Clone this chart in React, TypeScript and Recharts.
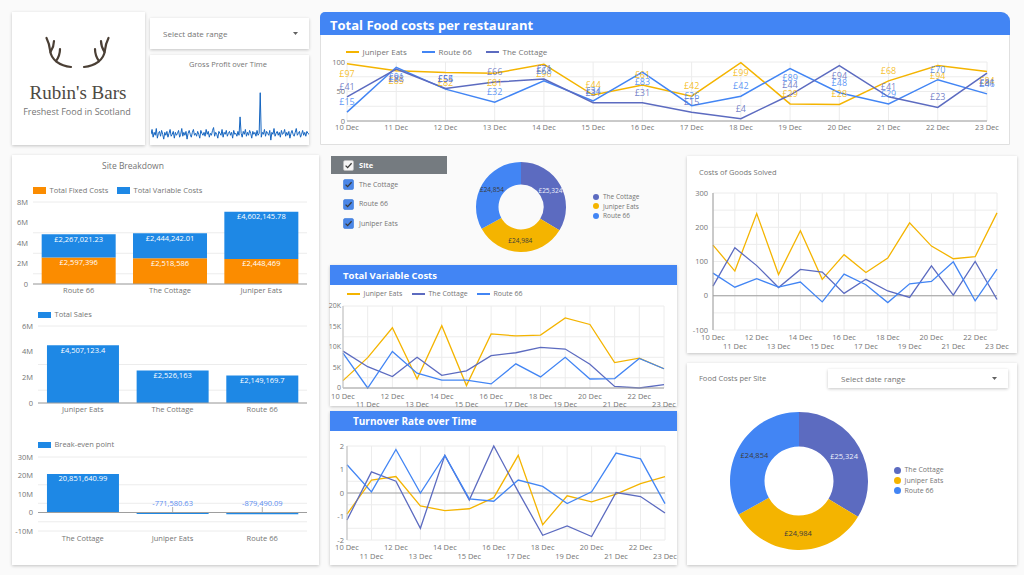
import React from "react";
import {
  Bar,
  BarChart,
  CartesianGrid,
  Cell,
  LabelList,
  Line,
  LineChart,
  Pie,
  PieChart,
  ReferenceLine,
  XAxis,
  YAxis,
} from "recharts";

const FONT = '"Open Sans", sans-serif';
const JUNIPER = "#f4b400";
const ROUTE = "#4285f4";
const COTTAGE = "#5c6bc0";
const HEAD = "#4285f4";
const BAR_BLUE = "#1e88e5";
const BAR_ORANGE = "#fb8c00";
const TICK = "#757575";
const GRID = "#ececec";

const dates = [
  "10 Dec", "11 Dec", "12 Dec", "13 Dec", "14 Dec", "15 Dec", "16 Dec",
  "17 Dec", "18 Dec", "19 Dec", "20 Dec", "21 Dec", "22 Dec", "23 Dec",
];

// Total food costs per restaurant (£)
const foodJuniper = [97, 85, 82, 81, 96, 44, 61, 42, 99, 29, 28, 68, 94, 84];
const foodRoute = [15, 91, 54, 32, 68, 34, 83, 26, 42, 89, 48, 29, 70, 46];
const foodCottage = [41, 88, 55, 66, 71, 31, 31, 15, 4, 44, 94, 41, 23, 81];

// Total variable costs
const varJuniper = [1800, 7400, 14700, 2200, 15200, 600, 13200, 12700, 12900, 17100, 15500, 6200, 7300, 4700];
const varCottage = [9000, 5200, 2800, 7500, 3100, 4200, 7900, 8600, 9900, 9500, 5800, 400, 0, 800];
const varRoute = [8500, 0, 8900, 3600, 1900, 1900, 1000, 5900, 2700, 7500, 2200, 2300, 7200, 4700];

// Turnover rate
const turnJuniper = [-0.9, 0.55, 0.7, -0.55, -0.75, -0.67, -0.2, 1.6, -1.35, -0.12, -0.38, -0.05, 0.4, 0.7];
const turnCottage = [-1.15, 0.9, 0.5, -1.5, 1.6, -0.3, 2, 0.06, -1.8, -1.4, -1.85, 0.02, -0.15, -0.85];
const turnRoute = [1.2, 0.05, 1.85, 0, 1.6, -0.25, -0.35, 0.55, 0.28, -0.45, 0.05, 1.7, 1.45, -0.45];

// Costs of goods
const cogsJuniper = [148, 72, 240, 62, 190, 48, 120, 68, 110, 213, 145, 108, 114, 242];
const cogsCottage = [28, 140, 88, 24, 77, 69, 7, 48, 14, -5, 87, 2, 100, -11];
const cogsRoute = [66, 25, 50, 25, 40, -18, 63, 32, -20, 35, 42, 99, -15, 78];

// Site breakdown
const breakdownSites = ["Route 66", "The Cottage", "Juniper Eats"];
const fixedCosts = [2597396, 2518586, 2448469];
const variableCosts = [2267021.23, 2444242.01, 4602145.78];

const salesSites = ["Juniper Eats", "The Cottage", "Route 66"];
const totalSales = [4507123.4, 2526163, 2149169.7];

const breakEvenSites = ["The Cottage", "Juniper Eats", "Route 66"];
const breakEven = [20851640.99, -771580.63, -879490.09];

// Food costs per site
const pieSites = ["The Cottage", "Juniper Eats", "Route 66"];
const pieValues = [25324, 24984, 24854];
const pieColors = [COTTAGE, JUNIPER, ROUTE];

// Gross profit sparkline
const grossProfit = [
  9, 14, 6, 11, 8, 15, 5, 10, 12, 7, 13, 9, 4, 11, 8, 12, 6, 10, 14, 7, 9, 12, 5, 11, 8,
  10, 13, 6, 9, 15, 7, 11, 8, 12, 4, 10, 13, 9, 6, 11, 14, 8, 10, 7, 12, 9, 5, 13, 10, 8,
  11, 7, 14, 9, 12, 6, 10, 8, 13, 16, 7, 11, 9, 5, 12, 10, 8, 14, 6, 11, 9, 13, 7, 10, 12,
  8, 11, 5, 13, 9, 10, 7, 12, 8, 27, 10, 6, 12, 9, 14, 7, 11, 8, 13, 10, 5, 12, 9, 11, 7,
  13, 8, 10, 52, 6, 11, 9, 14, 7, 12, 10, 8, 13, 3, 11, 9, 15, 7, 10, 12, 8, 11, 6, 13, 9,
  10, 14, 7, 11, 8, 12, 5, 10, 13, 9, 7, 11, 15, 8, 10, 12, 6, 9, 13, 8, 11, 7, 12, 10, 9,
];

const foodData = dates.map((d, i) => ({ date: d, juniper: foodJuniper[i], route: foodRoute[i], cottage: foodCottage[i] }));
const varData = dates.map((d, i) => ({ date: d, juniper: varJuniper[i], cottage: varCottage[i], route: varRoute[i] }));
const turnData = dates.map((d, i) => ({ date: d, juniper: turnJuniper[i], cottage: turnCottage[i], route: turnRoute[i] }));
const cogsData = dates.map((d, i) => ({ date: d, juniper: cogsJuniper[i], cottage: cogsCottage[i], route: cogsRoute[i] }));
const breakdownData = breakdownSites.map((s, i) => ({ site: s, fixed: fixedCosts[i], variable: variableCosts[i] }));
const salesData = salesSites.map((s, i) => ({ site: s, sales: totalSales[i] }));
const breakEvenData = breakEvenSites.map((s, i) => ({ site: s, value: breakEven[i] }));
const pieData = pieSites.map((s, i) => ({ name: s, value: pieValues[i] }));
const grossData = grossProfit.map((v, i) => ({ i, v }));

const fmt = (v: number) => v.toLocaleString("en-GB", { maximumFractionDigits: 2 });
const tickStyle = { fontSize: 7.5, fill: TICK, fontFamily: FONT };
const abs = (left: number, top: number, extra: any = {}) => ({ position: "absolute" as const, left, top, ...extra });

const Txt = ({ x, cy, size = 8, color = "#616161", weight = 400, center = false, family = FONT, children }: any) => (
  <div
    style={{
      position: "absolute",
      left: center ? x - 150 : x,
      top: cy - size,
      width: center ? 300 : undefined,
      height: size * 2,
      lineHeight: `${size * 2}px`,
      fontSize: size,
      color,
      fontWeight: weight,
      fontFamily: family,
      whiteSpace: "nowrap",
      textAlign: center ? "center" : "left",
    }}
  >
    {children}
  </div>
);

const Card = ({ left, top, width, height, style }: any) => (
  <div style={{ ...abs(left, top), width, height, background: "#fff", boxShadow: "0 1px 3px rgba(0,0,0,0.22)", ...style }} />
);

const LineKey = ({ x, cy, color, label, size = 8, gap = 3.5, len = 13 }: any) => (
  <>
    <div style={{ ...abs(x, cy - 1), width: len, height: 2, background: color }} />
    <Txt x={x + len + gap} cy={cy} size={size} color={TICK}>{label}</Txt>
  </>
);

const BoxKey = ({ x, cy, color, label, w = 13, h = 7 }: any) => (
  <>
    <div style={{ ...abs(x, cy - h / 2), width: w, height: h, background: color }} />
    <Txt x={x + w + 3.5} cy={cy} size={7.5} color={TICK}>{label}</Txt>
  </>
);

const DotKey = ({ x, cy, color, label, size, r }: any) => (
  <>
    <div style={{ ...abs(x - r, cy - r), width: r * 2, height: r * 2, borderRadius: "50%", background: color }} />
    <Txt x={x + r + 4} cy={cy} size={size} color={TICK}>{label}</Txt>
  </>
);

const Check = ({ x, y, bg, stroke }: any) => (
  <svg style={abs(x, y)} width={11} height={11}>
    <rect x={0.5} y={0.5} width={10} height={10} rx={1.5} fill={bg} stroke={stroke} strokeWidth={0.6} />
    <polyline points="2.6,5.6 4.6,7.6 8.6,3.2" fill="none" stroke="#3a3a3a" strokeWidth={1.3} />
  </svg>
);

const DateSelect = ({ left, top, width, height }: any) => (
  <>
    <Card left={left} top={top} width={width} height={height} />
    <Txt x={left + 13} cy={top + height / 2} size={8} color={TICK}>Select date range</Txt>
    <svg style={abs(left + width - 16, top + height / 2 - 2)} width={6} height={4}>
      <polygon points="0,0 5,0 2.5,3" fill="#616161" />
    </svg>
  </>
);

const pointXY = (p: any) => ({ x: p.x ?? p.viewBox?.x, y: p.y ?? p.viewBox?.y });

const foodLabel = (color: string) => (props: any) => {
  const { x, y } = pointXY(props);
  const v = Number(props.value);
  if (x == null || y == null || Number.isNaN(v)) return null;
  const below = v > 75;
  return (
    <text x={x} y={below ? y + 13 : y - 7} textAnchor="middle" fontSize={9} fill={color} fillOpacity={0.85} fontFamily={FONT}>
      £{v}
    </text>
  );
};

const barLabel = (prefix: string) => (props: any) => {
  const vb = props.viewBox || {};
  const x = props.x ?? vb.x;
  const y = props.y ?? vb.y;
  const w = props.width ?? vb.width;
  const h = props.height ?? vb.height;
  const v = Number(props.value);
  if (x == null || y == null) return null;
  const top = Math.min(y, y + h);
  const cx = x + w / 2;
  if (v < 0) {
    return (
      <g>
        <text x={cx} y={top - 7} textAnchor="middle" fontSize={7.5} fill="#5b8def" fontFamily={FONT}>
          {prefix}{fmt(v)}
        </text>
        <line x1={cx} x2={cx} y1={top - 5.5} y2={top} stroke="#9e9e9e" strokeWidth={0.8} />
      </g>
    );
  }
  return (
    <text x={cx} y={top + 7.5} textAnchor="middle" fontSize={7.5} fill="#fff" fontFamily={FONT}>
      {prefix}{fmt(v)}
    </text>
  );
};

const altTick = (rowA: number, rowB: number) => (props: any) => {
  const { x, y, payload, index } = props;
  return (
    <text x={x} y={y + (index % 2 === 0 ? rowA : rowB)} textAnchor="middle" fontSize={7.5} fill={TICK} fontFamily={FONT}>
      {payload.value}
    </text>
  );
};

const RAD = Math.PI / 180;
const pieLabel = (size: number) => (props: any) => {
  const { cx, cy, midAngle, innerRadius, outerRadius, value, index } = props;
  const r = innerRadius + (outerRadius - innerRadius) / 2;
  const x = cx + r * Math.cos(-midAngle * RAD);
  const y = cy + r * Math.sin(-midAngle * RAD);
  return (
    <text x={x} y={y} textAnchor="middle" dominantBaseline="central" fontSize={size} fill={index === 0 ? "#eef0fa" : "#3c3c3c"} fontFamily={FONT}>
      £{fmt(value)}
    </text>
  );
};

const money = (v: number) => (v === 0 ? "0" : `${v / 1e6}M`);

const Donut = ({ left, top, size, outer, inner, labelSize }: any) => (
  <div style={abs(left, top)}>
    <PieChart width={size} height={size} margin={{ top: 0, right: 0, bottom: 0, left: 0 }}>
      <Pie
        data={pieData}
        dataKey="value"
        nameKey="name"
        cx="50%"
        cy="50%"
        startAngle={90}
        endAngle={-270}
        outerRadius={outer}
        innerRadius={inner}
        stroke="none"
        labelLine={false}
        label={pieLabel(labelSize)}
        isAnimationActive={false}
      >
        {pieData.map((d, i) => (
          <Cell key={d.name} fill={pieColors[i]} />
        ))}
      </Pie>
    </PieChart>
  </div>
);

const Antler = () => (
  <g fill="none" stroke="#4a3f35" strokeWidth={2.2} strokeLinecap="round">
    <path d="M31 33 C20 32 11 26 10 16 C9.5 11 8 7 6.5 4" />
    <path d="M10.5 18 C13 14 14 10 14 7" />
    <path d="M16 27 C19 23 20 19 20 15" />
  </g>
);

export default function App() {
  return (
    <div style={{ position: "absolute", left: 0, top: 0, width: 1024, height: 575, background: "#fafafa", overflow: "hidden", fontFamily: FONT }}>
      {/* logo */}
      <Card left={12} top={12} width={133} height={133} />
      <svg style={abs(40, 34)} width={76} height={38}>
        <Antler />
        <g transform="translate(75,0) scale(-1,1)">
          <Antler />
        </g>
      </svg>
      <Txt x={78} cy={93} size={19} color="#4e4a44" center family='"Liberation Serif", serif'>Rubin's Bars</Txt>
      <Txt x={77} cy={112} size={9} color="#757575" center>Freshest Food in Scotland</Txt>

      {/* date range + gross profit */}
      <DateSelect left={150} top={18} width={159} height={31} />
      <Card left={150} top={55} width={159} height={90} />
      <Txt x={228} cy={64.5} size={7.5} color={TICK} center>Gross Profit over Time</Txt>
      <div style={abs(151, 85)}>
        <LineChart width={158} height={58} data={grossData} margin={{ top: 0, right: 0, bottom: 0, left: 0 }}>
          <XAxis dataKey="i" hide />
          <YAxis domain={[0, 60]} hide />
          <Line dataKey="v" stroke="#1565c0" strokeWidth={1} dot={false} isAnimationActive={false} />
        </LineChart>
      </div>

      {/* Total food costs per restaurant */}
      <div style={{ ...abs(320, 12), width: 690, height: 133, background: "#fff", border: "1px solid #e0e0e0", borderRadius: "5px 9px 0 0", boxSizing: "border-box" }} />
      <div style={{ ...abs(320, 12), width: 690, height: 23, background: HEAD, borderRadius: "5px 9px 0 0" }} />
      <Txt x={330} cy={24.5} size={13} weight={700} color="#fff">Total Food costs per restaurant</Txt>
      <LineKey x={346} cy={52} color={JUNIPER} label="Juniper Eats" />
      <LineKey x={422} cy={52} color={ROUTE} label="Route 66" />
      <LineKey x={486} cy={52} color={COTTAGE} label="The Cottage" />
      <div style={abs(320, 40)}>
        <LineChart width={690} height={100} data={foodData} margin={{ top: 22, right: 23, bottom: 3, left: 3 }}>
          <CartesianGrid stroke={GRID} />
          <XAxis dataKey="date" interval={0} tickLine={false} tickSize={0} tickMargin={4} height={16} axisLine={{ stroke: "#9e9e9e" }} tick={tickStyle} />
          <YAxis domain={[0, 100]} ticks={[0, 25, 50, 75, 100]} tickFormatter={(v: number) => (v % 50 === 0 ? String(v) : "")} width={24} tickSize={0} tickMargin={2} axisLine={false} tickLine={false} tick={tickStyle} />
          <Line dataKey="juniper" stroke={JUNIPER} strokeWidth={1.5} dot={false} isAnimationActive={false}>
            <LabelList dataKey="juniper" content={foodLabel(JUNIPER)} />
          </Line>
          <Line dataKey="route" stroke={ROUTE} strokeWidth={1.5} dot={false} isAnimationActive={false}>
            <LabelList dataKey="route" content={foodLabel(ROUTE)} />
          </Line>
          <Line dataKey="cottage" stroke={COTTAGE} strokeWidth={1.5} dot={false} isAnimationActive={false}>
            <LabelList dataKey="cottage" content={foodLabel(COTTAGE)} />
          </Line>
        </LineChart>
      </div>

      {/* Site breakdown */}
      <Card left={12} top={155} width={307} height={410} />
      <Txt x={133} cy={165.5} size={8.5} color={TICK} center>Site Breakdown</Txt>
      <BoxKey x={33} cy={190.5} color={BAR_ORANGE} label="Total Fixed Costs" />
      <BoxKey x={117} cy={190.5} color={BAR_BLUE} label="Total Variable Costs" />
      <div style={abs(12, 195)}>
        <BarChart width={306} height={105} data={breakdownData} margin={{ top: 7, right: 11, bottom: 2, left: 1 }} barCategoryGap="9.5%">
          <CartesianGrid stroke={GRID} vertical={false} />
          <XAxis dataKey="site" tickLine={false} tickSize={0} tickMargin={4} height={14} axisLine={{ stroke: "#9e9e9e" }} tick={tickStyle} />
          <YAxis domain={[0, 8e6]} ticks={[0, 1e6, 2e6, 3e6, 4e6, 5e6, 6e6, 7e6, 8e6]} tickFormatter={(v: number) => (v % 2e6 === 0 ? money(v) : "")} width={20} tickSize={0} tickMargin={5} axisLine={false} tickLine={false} tick={tickStyle} />
          <Bar dataKey="fixed" stackId="a" fill={BAR_ORANGE} isAnimationActive={false}>
            <LabelList dataKey="fixed" content={barLabel("£")} />
          </Bar>
          <Bar dataKey="variable" stackId="a" fill={BAR_BLUE} isAnimationActive={false}>
            <LabelList dataKey="variable" content={barLabel("£")} />
          </Bar>
        </BarChart>
      </div>

      <BoxKey x={38} cy={314.5} color={BAR_BLUE} label="Total Sales" h={6} />
      <div style={abs(12, 320)}>
        <BarChart width={306} height={96} data={salesData} margin={{ top: 6, right: 11, bottom: 1, left: 6 }} barCategoryGap="10%">
          <CartesianGrid stroke={GRID} vertical={false} />
          <XAxis dataKey="site" tickLine={false} tickSize={0} tickMargin={4} height={12} axisLine={{ stroke: "#9e9e9e" }} tick={tickStyle} />
          <YAxis domain={[0, 6e6]} ticks={[0, 1e6, 2e6, 3e6, 4e6, 5e6, 6e6]} tickFormatter={(v: number) => (v % 2e6 === 0 ? money(v) : "")} width={20} tickSize={0} tickMargin={5} axisLine={false} tickLine={false} tick={tickStyle} />
          <Bar dataKey="sales" fill={BAR_BLUE} isAnimationActive={false}>
            <LabelList dataKey="sales" content={barLabel("£")} />
          </Bar>
        </BarChart>
      </div>

      <BoxKey x={38} cy={444.5} color={BAR_BLUE} label="Break-even point" h={6} />
      <div style={abs(12, 450)}>
        <BarChart width={306} height={96} data={breakEvenData} margin={{ top: 7, right: 11, bottom: 3, left: 6 }} barCategoryGap="10%">
          <CartesianGrid stroke={GRID} vertical={false} />
          <XAxis dataKey="site" tickLine={false} tickSize={0} tickMargin={4.5} height={12} axisLine={false} tick={tickStyle} />
          <YAxis domain={[-10e6, 30e6]} ticks={[-10e6, -5e6, 0, 5e6, 10e6, 15e6, 20e6, 25e6, 30e6]} tickFormatter={(v: number) => (v % 10e6 === 0 ? money(v) : "")} width={20} tickSize={0} tickMargin={5} axisLine={false} tickLine={false} tick={tickStyle} />
          <ReferenceLine y={0} stroke="#9e9e9e" />
          <Bar dataKey="value" fill={BAR_BLUE} isAnimationActive={false}>
            <LabelList dataKey="value" content={barLabel("")} />
          </Bar>
        </BarChart>
      </div>

      {/* Site filter + small donut */}
      <div style={{ ...abs(331, 156), width: 116, height: 18, background: "#757b80" }} />
      <Check x={343} y={160} bg="#f5f5f5" stroke="#bdbdbd" />
      <Txt x={359} cy={165} size={7.5} weight={700} color="#fff">Site</Txt>
      <Check x={343} y={179} bg="#4a86e8" stroke="#3b78d8" />
      <Txt x={359} cy={184.5} size={7} color={TICK}>The Cottage</Txt>
      <Check x={343} y={198.5} bg="#4a86e8" stroke="#3b78d8" />
      <Txt x={359} cy={204} size={7} color={TICK}>Route 66</Txt>
      <Check x={343} y={218} bg="#4a86e8" stroke="#3b78d8" />
      <Txt x={359} cy={223.5} size={7} color={TICK}>Juniper Eats</Txt>
      <Donut left={471} top={157} size={100} outer={45} inner={22.5} labelSize={6.5} />
      {pieSites.map((s, i) => (
        <DotKey key={s} x={596} cy={196.7 + i * 9.5} color={pieColors[i]} label={s} size={6.5} r={3} />
      ))}

      {/* Total variable costs */}
      <Card left={330} top={265} width={347} height={141} />
      <div style={{ ...abs(330, 265), width: 347, height: 20, background: HEAD }} />
      <Txt x={343} cy={275} size={9.5} weight={700} color="#fff">Total Variable Costs</Txt>
      <LineKey x={347} cy={294} color={JUNIPER} label="Juniper Eats" size={7} />
      <LineKey x={412} cy={294} color={COTTAGE} label="The Cottage" size={7} />
      <LineKey x={477} cy={294} color={ROUTE} label="Route 66" size={7} />
      <div style={abs(322, 298)}>
        <LineChart width={355} height={112} data={varData} margin={{ top: 8, right: 13, bottom: 0, left: 8 }}>
          <CartesianGrid stroke={GRID} />
          <XAxis dataKey="date" interval={0} tickLine={false} tickSize={0} tickMargin={0} height={22} axisLine={{ stroke: "#9e9e9e" }} tick={altTick(11, 18.7)} />
          <YAxis domain={[0, 20000]} ticks={[0, 2500, 5000, 7500, 10000, 12500, 15000, 17500, 20000]} tickFormatter={(v: number) => (v % 5000 === 0 ? (v === 0 ? "0" : `${v / 1000}K`) : "")} width={13} tickSize={0} tickMargin={2} axisLine={{ stroke: "#bdbdbd" }} tickLine={false} tick={{ ...tickStyle, fontSize: 7 }} />
          <Line dataKey="juniper" stroke={JUNIPER} strokeWidth={1.3} dot={false} isAnimationActive={false} />
          <Line dataKey="cottage" stroke={COTTAGE} strokeWidth={1.3} dot={false} isAnimationActive={false} />
          <Line dataKey="route" stroke={ROUTE} strokeWidth={1.3} dot={false} isAnimationActive={false} />
        </LineChart>
      </div>

      {/* Turnover rate */}
      <Card left={330} top={411} width={347} height={154} />
      <div style={{ ...abs(330, 411), width: 347, height: 20, background: HEAD }} />
      <Txt x={353} cy={421} size={10} weight={700} color="#fff">Turnover Rate over Time</Txt>
      <div style={abs(330, 440)}>
        <LineChart width={347} height={128} data={turnData} margin={{ top: 6, right: 12, bottom: 0, left: 5 }}>
          <CartesianGrid stroke={GRID} />
          <XAxis dataKey="date" interval={0} tickLine={false} tickSize={0} tickMargin={0} height={28} axisLine={false} tick={altTick(10, 19)} />
          <YAxis domain={[-2, 2]} ticks={[-2, -1.5, -1, -0.5, 0, 0.5, 1, 1.5, 2]} tickFormatter={(v: number) => (Number.isInteger(v) ? String(v) : "")} width={12} tickSize={0} tickMargin={3} axisLine={{ stroke: "#bdbdbd" }} tickLine={false} tick={tickStyle} />
          <ReferenceLine y={0} stroke="#9e9e9e" />
          <Line dataKey="juniper" stroke={JUNIPER} strokeWidth={1.3} dot={false} isAnimationActive={false} />
          <Line dataKey="cottage" stroke={COTTAGE} strokeWidth={1.3} dot={false} isAnimationActive={false} />
          <Line dataKey="route" stroke={ROUTE} strokeWidth={1.3} dot={false} isAnimationActive={false} />
        </LineChart>
      </div>

      {/* Costs of goods */}
      <Card left={687} top={156} width={330} height={197} />
      <Txt x={699} cy={172.5} size={7.5} color={TICK}>Costs of Goods Solved</Txt>
      <div style={abs(687, 185)}>
        <LineChart width={330} height={167} data={cogsData} margin={{ top: 8, right: 20, bottom: 2, left: 6 }}>
          <CartesianGrid stroke={GRID} />
          <XAxis dataKey="date" interval={0} tickLine={false} tickSize={0} tickMargin={0} height={20} axisLine={false} tick={altTick(10, 18.7)} />
          <YAxis domain={[-100, 300]} ticks={[-100, -50, 0, 50, 100, 150, 200, 250, 300]} tickFormatter={(v: number) => (v % 100 === 0 ? String(v) : "")} width={20} tickSize={0} tickMargin={5} axisLine={{ stroke: "#9e9e9e" }} tickLine={false} tick={tickStyle} />
          <ReferenceLine y={0} stroke="#9e9e9e" />
          <Line dataKey="juniper" stroke={JUNIPER} strokeWidth={1.3} dot={false} isAnimationActive={false} />
          <Line dataKey="cottage" stroke={COTTAGE} strokeWidth={1.3} dot={false} isAnimationActive={false} />
          <Line dataKey="route" stroke={ROUTE} strokeWidth={1.3} dot={false} isAnimationActive={false} />
        </LineChart>
      </div>

      {/* Food costs per site */}
      <Card left={687} top={363} width={330} height={202} />
      <Txt x={699} cy={378.5} size={7.5} color={TICK}>Food Costs per Site</Txt>
      <DateSelect left={828} top={369} width={180} height={19} />
      <Donut left={725} top={407} size={148} outer={69} inner={34.5} labelSize={7.5} />
      {pieSites.map((s, i) => (
        <DotKey key={s} x={897} cy={470.3 + i * 10.2} color={pieColors[i]} label={s} size={7} r={3.5} />
      ))}
    </div>
  );
}
